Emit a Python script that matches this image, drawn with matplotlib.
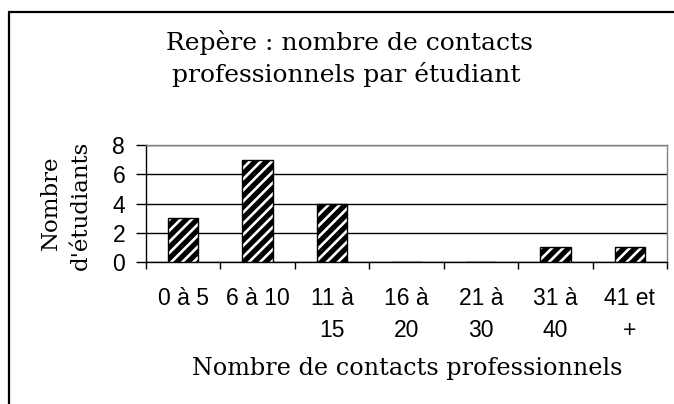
import matplotlib
matplotlib.use("Agg")
import numpy as np
from matplotlib import pyplot as plt
from matplotlib.patches import Rectangle

categories = ["0 à 5", "6 à 10", "11 à\n15", "16 à\n20", "21 à\n30", "31 à\n40", "41 et\n+"]
students = [3, 7, 4, 0, 0, 1, 1]
y_ticks = [0, 2, 4, 6, 8]

title_lines = ["Repère : nombre de contacts", "professionnels par étudiant"]
x_label = "Nombre de contacts professionnels"
y_label_lines = ["Nombre", "d'étudiants"]

SERIF = "DejaVu Serif"
SANS = "Liberation Sans"

plt.rcParams["hatch.linewidth"] = 1.9

W, H = 674, 404
fig = plt.figure(figsize=(W / 100, H / 100), dpi=100)

# outer chart border (runs off the right and bottom of the picture)
fig.patches.append(Rectangle((9 / W, -0.1), 1.0, 1 - 12 / H + 0.1, transform=fig.transFigure,
                             fill=False, edgecolor="black", linewidth=1.6))

ax = fig.add_axes([146 / W, 1 - 262 / H, (667 - 146) / W, (262 - 145) / H])

x = np.arange(len(categories))
# black bars with white diagonal stripes, then a black outline on top
ax.bar(x, students, width=0.41, color="black", edgecolor="white", linewidth=0, hatch="///", zorder=3)
ax.bar(x, students, width=0.41, fill=False, edgecolor="black", linewidth=1.0, zorder=4)

ax.set_xlim(-0.5, len(categories) - 0.5)
ax.set_ylim(0, 8)
ax.set_yticks(y_ticks)
ax.set_yticklabels([str(v) for v in y_ticks], fontfamily=SANS, fontsize=16.5)
ax.yaxis.grid(True, color="black", linewidth=1.0)
ax.set_axisbelow(True)

ax.set_xticks(x)
ax.set_xticklabels(categories, fontfamily=SANS, fontsize=16.5, linespacing=1.5, va="top")
ax.set_xticks(np.arange(-0.5, len(categories)), minor=True)
ax.tick_params(axis="x", which="major", length=0, pad=18)
ax.tick_params(axis="x", which="minor", length=5, width=1.0, direction="out")
ax.tick_params(axis="y", length=7, width=1.0, pad=8, direction="out")

for side in ["left", "bottom"]:
    ax.spines[side].set_color("black")
    ax.spines[side].set_linewidth(1.0)
for side in ["top", "right"]:
    ax.spines[side].set_color("#808080")
    ax.spines[side].set_linewidth(1.0)

fig.text(349 / W, 1 - 50 / H, title_lines[0], ha="center", va="baseline", fontfamily=SERIF, fontsize=18)
fig.text(346 / W, 1 - 82 / H, title_lines[1], ha="center", va="baseline", fontfamily=SERIF, fontsize=18)
fig.text(407 / W, 1 - 375 / H, x_label, ha="center", va="baseline", fontfamily=SERIF, fontsize=17.2)
fig.text(51 / W, 1 - 203 / H, y_label_lines[0], ha="center", va="center", rotation=90,
         fontfamily=SERIF, fontsize=16.5)
fig.text(81 / W, 1 - 205 / H, y_label_lines[1], ha="center", va="center", rotation=90,
         fontfamily=SERIF, fontsize=16.5)

fig.savefig("out.png", dpi=100, facecolor="white")
